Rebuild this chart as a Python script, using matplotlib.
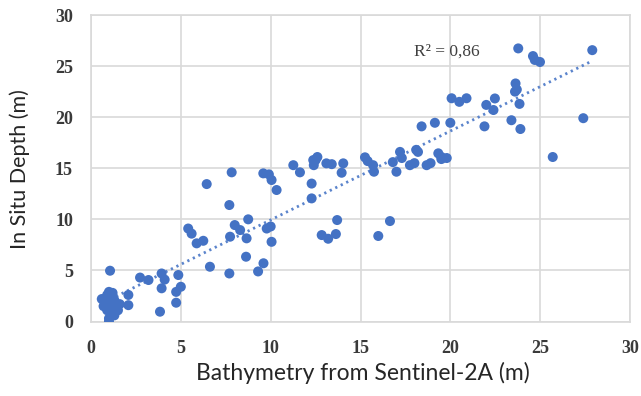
import numpy as np
import matplotlib
matplotlib.use("Agg")
import matplotlib.pyplot as plt

# Satellite-derived bathymetry (x) vs in situ depth (y)
sdb = [0.6, 0.8, 0.9, 1.0, 1.1, 1.2, 1.3, 1.0, 1.2, 1.4, 0.9, 1.1, 1.3, 1.0, 1.0, 1.5, 1.6, 0.7, 1.2,
       1.06, 2.08, 2.08, 2.73, 3.2, 3.93, 3.93, 3.84, 4.1, 4.86, 4.74, 5.0, 4.74, 6.62,
       7.83, 6.44, 7.7, 9.59, 9.9, 10.05, 10.33, 11.26, 11.63, 12.28, 12.28, 12.5,
       5.41, 5.6, 5.88, 6.25, 8.75, 8.0, 8.3, 7.74, 8.66, 9.78, 10.0, 10.05, 8.63, 7.7, 9.3, 9.6,
       12.37, 12.6, 12.4, 13.1, 13.4, 14.04, 13.95,
       15.25, 15.4, 15.7, 15.75, 16.8, 17.0, 17.2, 17.3, 17.75, 18.0, 18.1, 18.2, 18.68, 18.9,
       19.33, 19.5, 19.8, 19.5,
       13.7, 12.84, 13.2, 13.63, 16.64, 15.99,
       23.78, 24.6, 24.7, 24.99, 27.9, 23.63, 23.6, 23.7, 23.85, 22.48, 22.0, 22.4, 23.4, 23.9,
       21.9, 27.4, 25.7, 20.07, 20.5, 20.9, 20.0, 19.14, 18.4]
insitu = [2.2, 1.9, 2.6, 2.9, 2.4, 2.8, 2.1, 1.6, 1.3, 1.6, 1.1, 0.9, 0.6, 0.3, 0.0, 1.1, 1.7, 1.5, 1.9,
          4.97, 2.6, 1.6, 4.3, 4.06, 4.7, 3.25, 0.96, 4.1, 4.55, 2.9, 3.4, 1.84, 5.36,
          14.6, 13.45, 11.4, 14.5, 14.4, 13.85, 12.87, 15.3, 14.6, 13.5, 12.05, 15.8,
          9.1, 8.6, 7.65, 7.9, 10.0, 9.44, 8.95, 8.3, 8.14, 9.1, 9.3, 7.8, 6.34, 4.7, 4.9, 5.7,
          15.8, 16.1, 15.3, 15.48, 15.4, 15.48, 14.56,
          16.07, 15.7, 15.3, 14.66, 15.6, 14.66, 16.6, 16.0, 15.3, 15.5, 16.8, 16.6, 15.3, 15.5,
          16.46, 16.1, 16.0, 15.9,
          9.93, 8.46, 8.1, 8.56, 9.83, 8.37,
          26.73, 25.98, 25.6, 25.4, 26.56, 23.3, 22.5, 22.7, 21.3, 21.83, 21.2, 20.7, 19.7, 18.84,
          19.1, 19.9, 16.1, 21.85, 21.5, 21.85, 19.45, 19.45, 19.1]
r2_label = "R² = 0,86"

blue = "#4472C4"
grey = "#d9d9d9"

fig = plt.figure(figsize=(6.41, 3.96), dpi=100)
ax = fig.add_axes([91 / 641, 1 - 321.5 / 396, (630 - 91) / 641, (321.5 - 15) / 396])

ax.scatter(sdb, insitu, s=52, color=blue, edgecolors="none", zorder=3)

# linear trend line
coef = np.polyfit(sdb, insitu, 1)
xt = np.array([min(sdb) + 0.8, max(sdb)])
ax.plot(xt, np.polyval(coef, xt), color="#5b84cc", lw=2.0,
        linestyle=(0, (0.8, 1.4)), zorder=2)

ax.text(18.0, 26.4, r2_label, family="Liberation Serif", fontsize=12.5,
        color="#404040", va="center", ha="left")

ax.set_xlim(0, 30)
ax.set_ylim(0, 30)
ax.set_xticks(range(0, 31, 5))
ax.set_yticks(range(0, 31, 5))
ax.grid(True, color=grey, lw=1.2)
ax.set_axisbelow(True)
for sp in ax.spines.values():
    sp.set_color(grey)
    sp.set_linewidth(1.2)
ax.tick_params(length=0, pad=13, labelsize=13, labelcolor="#3a3a3a")
for lab in ax.get_xticklabels() + ax.get_yticklabels():
    lab.set_family("Liberation Serif")
    lab.set_fontweight("bold")

fig.text(363 / 641, 1 - 373 / 396, "Bathymetry from Sentinel-2A (m)", family="Lato",
         fontsize=16.5, color="#262626", ha="center", va="center")
fig.text(20 / 641, 1 - 169 / 396, "In Situ Depth (m)", family="Lato",
         fontsize=15.5, color="#262626", ha="center", va="center", rotation=90)

fig.savefig("out.png", dpi=100)
